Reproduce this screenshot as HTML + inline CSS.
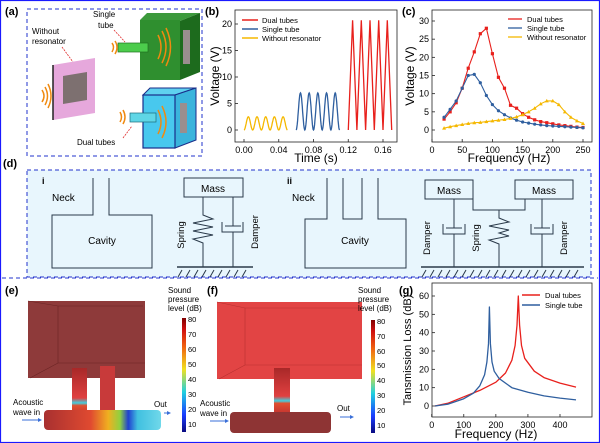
<!DOCTYPE html>
<html><head><meta charset="utf-8">
<style>
html,body{margin:0;padding:0;background:#fff;}
svg{display:block;font-family:"Liberation Sans",sans-serif;}
</style></head>
<body>
<svg id="fig" width="600" height="443" viewBox="0 0 600 443" xmlns="http://www.w3.org/2000/svg">
<rect x="0.5" y="0.5" width="599" height="442" fill="none" stroke="#1a1aff" stroke-width="1.2"/>

<!-- Panel A -->
<g>
<text x="5" y="15" font-size="11" font-weight="bold">(a)</text>
<rect x="27" y="9" width="175" height="147" fill="none" stroke="#2233cc" stroke-dasharray="4,3"/>
<text x="32" y="34" font-size="8">Without</text>
<text x="32" y="44" font-size="8">resonator</text>
<line x1="62" y1="47" x2="73" y2="62" stroke="#e03030" stroke-width="0.8" stroke-dasharray="2,1"/>
<text x="93" y="17" font-size="8">Single</text>
<text x="98" y="28" font-size="8">tube</text>
<line x1="114" y1="30" x2="125" y2="42" stroke="#e03030" stroke-width="0.8" stroke-dasharray="2,1"/>
<text x="77" y="145" font-size="8">Dual tubes</text>
<line x1="123" y1="138" x2="132" y2="126" stroke="#e03030" stroke-width="0.8" stroke-dasharray="2,1"/>
<polygon points="53,65 95,58 95,113 53,120" fill="#e6a8dc"/>
<line x1="53" y1="65" x2="53" y2="120" stroke="#222" stroke-width="1.5"/>
<polygon points="63,76 87,72 87,100 63,104" fill="#7d7070"/>
<g fill="none" stroke="#f08a10" stroke-width="1.5">
<path d="M42,90 q4,6 0,12"/><path d="M45,87 q5,9 0,18"/><path d="M48,84 q6,12 0,24"/></g>
<polygon points="140,20 147,13 200,13 180,21" fill="#3c9a3c"/>
<polygon points="180,21 200,13 200,72 180,80" fill="#1d6b1d"/>
<rect x="140" y="20" width="40" height="60" fill="#2f8f2f"/>
<rect x="183" y="30" width="7" height="34" fill="#9a8e8e"/>
<rect x="118" y="43" width="30" height="9" fill="#4ccc4c" stroke="#1f6f1f" stroke-width="0.7"/>
<g fill="none" stroke="#f08a10" stroke-width="1.5"><path d="M112,43 q3,4 0,9"/><path d="M115,41 q4,6 0,13"/><path d="M158,35 q6,12 0,24"/><path d="M162,31 q8,16 0,32"/><path d="M166,28 q9,19 0,38"/></g>
<polygon points="143,95 150,88 196,88 175,95" fill="#5fd1ef" stroke="#1a2d8a" stroke-width="1"/>
<polygon points="175,95 196,88 196,140 175,148" fill="#3ab4dc" stroke="#1a2d8a" stroke-width="1"/>
<rect x="143" y="95" width="32" height="53" fill="#48c8ee" stroke="#1a2d8a" stroke-width="1.2"/>
<rect x="180" y="103" width="7" height="30" fill="#9a8e8e"/>
<rect x="130" y="113" width="26" height="9" fill="#5fd6e6" stroke="#1c6b7a" stroke-width="0.7"/>
<g fill="none" stroke="#f08a10" stroke-width="1.5"><path d="M120,112 q3,5 0,10"/><path d="M123,110 q4,7 0,14"/><path d="M158,110 q6,12 0,24"/><path d="M162,106 q8,16 0,32"/></g>
</g>

<!-- Panel B -->
<g id="pb">
<text x="205" y="15" font-size="11" font-weight="bold">(b)</text>
<rect x="235" y="10" width="162" height="132" fill="none" stroke="#222" stroke-width="0.8"/>
<text transform="translate(219,76) rotate(-90)" font-size="12" text-anchor="middle">Voltage (V)</text>
<text x="316" y="162" font-size="12" text-anchor="middle">Time (s)</text>
</g>

<!-- Panel C -->
<g id="pc">
<text x="402" y="15" font-size="11" font-weight="bold">(c)</text>
<rect x="432" y="10" width="160" height="132" fill="none" stroke="#222" stroke-width="0.8"/>
<text transform="translate(414,76) rotate(-90)" font-size="12" text-anchor="middle">Voltage (V)</text>
<text x="509" y="162" font-size="12" text-anchor="middle">Frequency (Hz)</text>
</g>

<!-- Panel D -->
<g fill="none" stroke="#2a3a4a" stroke-width="1">
<text x="3" y="167" font-size="11" font-weight="bold" fill="#000" stroke="none">(d)</text>
<rect x="27" y="170" width="564" height="107" fill="#e8f6fd" stroke="#2233cc" stroke-dasharray="4,3"/>
<text x="42" y="184" font-size="9" font-weight="bold" fill="#000" stroke="none">i</text>
<text x="52" y="201" font-size="10" fill="#000" stroke="none">Neck</text>
<path d="M93,178 V215 H52 V268 H152 V215 H109 V178"/>
<text x="102" y="244" font-size="10" text-anchor="middle" fill="#000" stroke="none">Cavity</text>
<rect x="184" y="178" width="59" height="19"/>
<text x="213" y="192" font-size="10" text-anchor="middle" fill="#000" stroke="none">Mass</text>
<path d="M203,197 V215 L213,219 L193,223 L213,227 L193,231 L213,235 L193,239 L203,243 V267"/>
<path d="M233,197 V226 M225,226 H241 M222,222 V232 H243 V222 M233,232 V267"/>
<line x1="177" y1="267" x2="253" y2="267" stroke-width="1.4"/>
<path d="M182,270 l-4,7 M190,270 l-4,7 M198,270 l-4,7 M206,270 l-4,7 M214,270 l-4,7 M222,270 l-4,7 M230,270 l-4,7 M238,270 l-4,7 M246,270 l-4,7"/>
<text transform="translate(184,235) rotate(-90)" font-size="9.5" text-anchor="middle" fill="#000" stroke="none">Spring</text>
<text transform="translate(258,232) rotate(-90)" font-size="9.5" text-anchor="middle" fill="#000" stroke="none">Damper</text>

<text x="287" y="184" font-size="9" font-weight="bold" fill="#000" stroke="none">ii</text>
<text x="292" y="201" font-size="10" fill="#000" stroke="none">Neck</text>
<path d="M327,178 V219 H305 V268 H406 V219 H378 V178 M343,178 V219 H362 V178"/>
<text x="355" y="244" font-size="10" text-anchor="middle" fill="#000" stroke="none">Cavity</text>
<rect x="425" y="180" width="48" height="19"/>
<text x="449" y="194" font-size="10" text-anchor="middle" fill="#000" stroke="none">Mass</text>
<rect x="515" y="180" width="58" height="19"/>
<text x="544" y="194" font-size="10" text-anchor="middle" fill="#000" stroke="none">Mass</text>
<path d="M473,199 V210 H525 V199"/>
<path d="M499,210 V218 L509,222 L489,226 L509,230 L499,233 L509,236 L489,240 L499,244 V267"/>
<path d="M454,199 V228 M446,228 H462 M443,224 V234 H465 V224 M454,234 V267"/>
<path d="M542,199 V228 M534,228 H550 M531,224 V234 H553 V224 M542,234 V267"/>
<line x1="421" y1="267" x2="584" y2="267" stroke-width="1.4"/>
<path d="M426,270 l-4,7 M434,270 l-4,7 M442,270 l-4,7 M450,270 l-4,7 M458,270 l-4,7 M466,270 l-4,7 M474,270 l-4,7 M482,270 l-4,7 M490,270 l-4,7 M498,270 l-4,7 M506,270 l-4,7 M514,270 l-4,7 M522,270 l-4,7 M530,270 l-4,7 M538,270 l-4,7 M546,270 l-4,7 M554,270 l-4,7 M562,270 l-4,7 M570,270 l-4,7 M578,270 l-4,7"/>
<text transform="translate(430,238) rotate(-90)" font-size="9.5" text-anchor="middle" fill="#000" stroke="none">Damper</text>
<text transform="translate(479,238) rotate(-90)" font-size="9.5" text-anchor="middle" fill="#000" stroke="none">Spring</text>
<text transform="translate(567,238) rotate(-90)" font-size="9.5" text-anchor="middle" fill="#000" stroke="none">Damper</text>
</g>

<!-- Panels E/F -->
<defs>
<linearGradient id="cb" x1="0" y1="1" x2="0" y2="0">
<stop offset="0" stop-color="#0a0a80"/><stop offset="0.15" stop-color="#1a3cff"/><stop offset="0.35" stop-color="#20d0e0"/><stop offset="0.55" stop-color="#f0e020"/><stop offset="0.75" stop-color="#f06010"/><stop offset="0.9" stop-color="#d01010"/><stop offset="1" stop-color="#800000"/></linearGradient>
<linearGradient id="pipeE" x1="0" y1="0" x2="1" y2="0">
<stop offset="0" stop-color="#a83030"/><stop offset="0.4" stop-color="#e04a30"/><stop offset="0.55" stop-color="#f0b020"/><stop offset="0.65" stop-color="#90d040"/><stop offset="0.72" stop-color="#2040d0"/><stop offset="0.8" stop-color="#40c0e0"/><stop offset="1" stop-color="#70d8ea"/></linearGradient>
<linearGradient id="tubeE" x1="0" y1="0" x2="0" y2="1">
<stop offset="0" stop-color="#a82828"/><stop offset="0.6" stop-color="#e04040"/><stop offset="0.7" stop-color="#40d0e0"/><stop offset="0.75" stop-color="#e05030"/><stop offset="1" stop-color="#c03030"/></linearGradient>
</defs>
<g>
<text x="5" y="294" font-size="11" font-weight="bold">(e)</text>
<rect x="28" y="301" width="117" height="77" fill="#8e3a3a"/>
<path d="M28,301 L58,306 H143 M58,306 V363 M30,378 L58,363 H145" fill="none" stroke="#6a2424" stroke-width="0.6"/>
<rect x="72" y="368" width="15" height="50" fill="url(#tubeE)"/>
<rect x="100" y="366" width="15" height="46" fill="#c83a3a"/>
<rect x="44" y="410" width="117" height="20" rx="4" fill="url(#pipeE)"/>
<text x="13" y="405" font-size="8">Acoustic</text><text x="13" y="415" font-size="8">wave in</text>
<line x1="22" y1="420" x2="38" y2="420" stroke="#3a6fd8" stroke-width="1"/><path d="M38,418 l4,2 l-4,2z" fill="#3a6fd8"/>
<text x="154" y="407" font-size="8">Out</text>
<line x1="164" y1="413" x2="167" y2="413" stroke="#3a6fd8"/><path d="M167,411 l4,2 l-4,2z" fill="#3a6fd8"/>
<text x="168" y="293" font-size="8">Sound</text><text x="168" y="302" font-size="8">pressure</text><text x="168" y="311" font-size="8">level (dB)</text>
<rect x="182" y="318" width="4" height="114" fill="url(#cb)"/>
<g font-size="7.5"><text x="188" y="322">80</text><text x="188" y="337">70</text><text x="188" y="352">60</text><text x="188" y="367">50</text><text x="188" y="382">40</text><text x="188" y="397">30</text><text x="188" y="412">20</text><text x="188" y="427">10</text></g>
</g>
<g>
<text x="207" y="294" font-size="11" font-weight="bold">(f)</text>
<rect x="217" y="302" width="145" height="77" fill="#e24444"/>
<path d="M217,302 L245,308 H360 M245,308 V365 M219,379 L245,365 H362" fill="none" stroke="#b83030" stroke-width="0.6"/>
<rect x="274" y="368" width="16" height="47" fill="url(#tubeE)"/>
<rect x="230" y="412" width="101" height="21" rx="4" fill="#8e3434"/>
<text x="200" y="406" font-size="8">Acoustic</text><text x="200" y="416" font-size="8">wave in</text>
<line x1="210" y1="421" x2="225" y2="421" stroke="#3a6fd8"/><path d="M225,419 l4,2 l-4,2z" fill="#3a6fd8"/>
<text x="337" y="411" font-size="8">Out</text>
<line x1="340" y1="417" x2="350" y2="417" stroke="#3a6fd8"/><path d="M350,415 l4,2 l-4,2z" fill="#3a6fd8"/>
<text x="358" y="293" font-size="8">Sound</text><text x="358" y="302" font-size="8">pressure</text><text x="358" y="311" font-size="8">level (dB)</text>
<rect x="371" y="320" width="4" height="113" fill="url(#cb)"/>
<g font-size="7.5"><text x="377" y="324">80</text><text x="377" y="339">70</text><text x="377" y="354">60</text><text x="377" y="368">50</text><text x="377" y="383">40</text><text x="377" y="398">30</text><text x="377" y="413">20</text><text x="377" y="428">10</text></g>
</g>
<line x1="2" y1="278" x2="598" y2="278" stroke="#2233cc" stroke-dasharray="4,3"/>

<!-- Panel G -->
<g id="pg">
<text x="399" y="294" font-size="11" font-weight="bold">(g)</text>
<rect x="432" y="283" width="160" height="134" fill="none" stroke="#222" stroke-width="0.8"/>
<text transform="translate(411,350) rotate(-90)" font-size="11" text-anchor="middle">Tansmission Loss (dB)</text>
<text x="496" y="438" font-size="12" text-anchor="middle">Frequency (Hz)</text>
</g>
</svg>

<script>
// ---- Panel B data ----
const bBurstNames = ["Without resonator","Single tube","Dual tubes"];
const bBurstStart = [0.0, 0.06, 0.12];
const bBurstEnd = [0.05, 0.11, 0.17];
const bBurstPeak = [2.5, 7.0, 20.7];
const bBurstCycles = [5, 5, 5];
const bColors = ["#f5b800","#2f5f9f","#e8201c"];
const bXTicks = [0.00,0.04,0.08,0.12,0.16];
const bYTicks = [0,5,10,15,20];
// ---- Panel C data ----
const cFreq = [20,30,40,50,60,70,80,90,100,110,120,130,140,150,160,170,180,190,200,210,220,230,240,250];
const cDual = [3,5,7.5,11.5,17,21.5,26.5,28,21,14.5,11.5,6.8,6,4.5,3.5,2.8,2.3,2,1.7,1.4,1.2,1,0.8,0.7];
const cSingle = [3.5,5.7,8,11.5,15,15.3,13,9.5,7,5.3,4.2,3.3,2.7,2.2,1.9,1.6,1.4,1.2,1.1,1,0.9,0.8,0.7,0.6];
const cWithout = [0.5,0.9,1.2,1.5,1.8,2,2.1,2.3,2.5,2.7,2.9,3.2,3.6,4.2,5,6,7.2,8,8,7,5,3.5,2.5,1.8];
const cXTicks = [0,50,100,150,200,250];
const cYTicks = [0,5,10,15,20,25,30];
// ---- Panel G data ----
const gSingleF = [10,50,100,130,150,165,172,177,180,183,188,195,210,250,300,350,400,450];
const gSingleTL = [0,1,4,7,11,17,24,34,54,34,24,19,15,10,7.5,5.5,4.3,3.3];
const gDualF = [10,50,100,150,200,230,250,260,266,270,274,280,290,320,350,400,450];
const gDualTL = [0,1.5,5,8.5,13,18,25,33,44,60,44,33,26,19,15.5,12.5,10.3];
const gXTicks = [0,100,200,300,400];
const gYTicks = [0,10,20,30,40,50,60];

const NS="http://www.w3.org/2000/svg";
function mk(parent,tag,attrs){const e=document.createElementNS(NS,tag);for(const k in attrs)e.setAttribute(k,attrs[k]);parent.appendChild(e);return e;}
function lin(d0,d1,r0,r1){return v=>r0+(v-d0)/(d1-d0)*(r1-r0);}

function axes(g,xs,ys,xt,yt,x0,x1,y0,y1,fmtX,prefix){
  xt.forEach(t=>{const x=xs(t);
    const l=mk(g,'line',{x1:x,x2:x,y1:y1,y2:y1-3,stroke:'#222','stroke-width':0.8});
    
    
    const tx=mk(g,'text',{x:x,y:y1+11,'font-size':9,'text-anchor':'middle'});tx.textContent=fmtX(t);
    
    });
  yt.forEach(t=>{const y=ys(t);
    const l=mk(g,'line',{x1:x0,x2:x0+3,y1:y,y2:y,stroke:'#222','stroke-width':0.8});
    
    
    const tx=mk(g,'text',{x:x0-3,y:y+3,'font-size':9,'text-anchor':'end'});tx.textContent=t;
    
    });
}

// Panel B
(function(){
  const g=document.getElementById('pb');
  const xs=lin(0,0.16,244,383), ys=lin(0,20,130,24);
  axes(g,xs,ys,bXTicks,bYTicks,235,397,10,142,t=>t.toFixed(2),'b');
  bBurstStart.forEach((s,i)=>{
    const e=bBurstEnd[i], n=bBurstCycles[i], A=bBurstPeak[i];
    const per = i===2?2:24; let pts=[];
    for(let k=0;k<=n*per;k++){const t=s+(e-s)*k/(n*per);
      const v=A*(1-Math.cos(2*Math.PI*k/per))/2; pts.push(xs(t).toFixed(1)+','+ys(v).toFixed(1));}
    const p=mk(g,'polyline',{points:pts.join(' '),fill:'none',stroke:bColors[i],'stroke-width':1.3});
    
    
    const ly=20+i*9;
    const ll=mk(g,'line',{x1:242,x2:258,y1:ly,y2:ly,stroke:bColors[2-i],'stroke-width':1.5});
    
    
    const lt=mk(g,'text',{x:262,y:ly+3,'font-size':7.5});lt.textContent=bBurstNames[2-i];
    
    
  });
})();

// Panel C
(function(){
  const g=document.getElementById('pc');
  const xs=lin(0,250,432,583), ys=lin(0,30,130,21);
  axes(g,xs,ys,cXTicks,cYTicks,432,592,10,142,t=>t,'c');
  const series=[[cDual,'#e8201c','Dual tubes','sq'],[cSingle,'#2f5f9f','Single tube','ci'],[cWithout,'#f5b800','Without resonator','tr']];
  series.forEach((s,i)=>{
    const pts=cFreq.map((f,j)=>xs(f).toFixed(1)+','+ys(s[0][j]).toFixed(1)).join(' ');
    const p=mk(g,'polyline',{points:pts,fill:'none',stroke:s[1],'stroke-width':1.1});
    
    
    cFreq.forEach((f,j)=>{const x=xs(f),y=ys(s[0][j]);
      let m;
      if(s[3]==='sq') m=mk(g,'rect',{x:x-1.6,y:y-1.6,width:3.2,height:3.2,fill:s[1]});
      else if(s[3]==='ci') m=mk(g,'circle',{cx:x,cy:y,r:1.6,fill:s[1]});
      else m=mk(g,'polygon',{points:`${x},${y-2} ${x-2},${y+1.5} ${x+2},${y+1.5}`,fill:s[1]});
      
      });
    const ly=19+i*9;
    const ll=mk(g,'line',{x1:508,x2:522,y1:ly,y2:ly,stroke:s[1],'stroke-width':1.3});
    
    
    const lt=mk(g,'text',{x:527,y:ly+3,'font-size':7.5});lt.textContent=s[2];
    
    
  });
})();

// Panel G
(function(){
  const g=document.getElementById('pg');
  const xs=lin(0,400,431.7,560), ys=lin(0,60,406,296);
  axes(g,xs,ys,gXTicks,gYTicks,432,592,283,417,t=>t,'g');
  const series=[[gDualF,gDualTL,'#e8201c','Dual tubes'],[gSingleF,gSingleTL,'#2f5f9f','Single tube']];
  series.forEach((s,i)=>{
    const pts=s[0].map((f,j)=>xs(f).toFixed(1)+','+ys(s[1][j]).toFixed(1)).join(' ');
    const p=mk(g,'polyline',{points:pts,fill:'none',stroke:s[2],'stroke-width':1.3,'stroke-linejoin':'round'});
    
    
    const ly=295+i*10;
    const ll=mk(g,'line',{x1:522,x2:540,y1:ly,y2:ly,stroke:s[2],'stroke-width':1.5});
    
    
    const lt=mk(g,'text',{x:545,y:ly+3,'font-size':7.5});lt.textContent=s[3];
    
    
  });
})();
</script>
</body></html>
